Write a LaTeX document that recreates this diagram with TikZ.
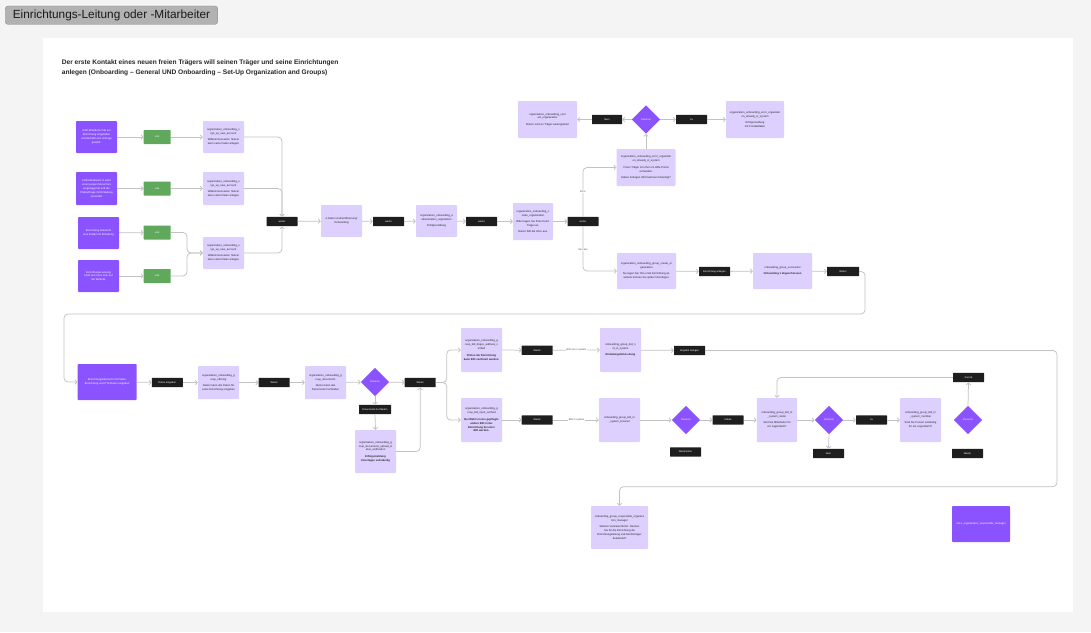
\documentclass[tikz,border=0pt]{standalone}
\usepackage{fontspec}
\setmainfont{Liberation Sans}
\usetikzlibrary{shapes.geometric,arrows.meta}
\definecolor{bgc}{HTML}{F4F4F4}
\definecolor{dpur}{HTML}{8B52FF}
\definecolor{lpur}{HTML}{DDD0FF}
\definecolor{grn}{HTML}{5FA85C}
\definecolor{blk}{HTML}{1E1E1E}
\definecolor{lgr}{HTML}{C2C2C2}
\definecolor{hdr}{HTML}{B2B2B2}
\begin{document}
\begin{tikzpicture}[x=1pt,y=-1pt,
 box/.style={inner sep=0.5pt, align=center, font=\fontsize{2.7}{3.9}\selectfont},
 sz/.style 2 args={minimum width=#1pt, minimum height=#2pt},
 dp/.style={box, fill=dpur, text=white, rounded corners=0.8pt},
 lp/.style={box, fill=lpur, text=black!85, rounded corners=0.8pt},
 bk/.style={box, fill=blk, text=white, rounded corners=0.6pt, sz={31}{9.4}, font=\fontsize{2.5}{3}\selectfont},
 gr/.style={box, fill=grn, text=white, rounded corners=0.6pt, sz={27}{14}, font=\fontsize{2.5}{3}\selectfont},
 dm/.style={shape=diamond, aspect=1, fill=dpur, text=white, inner sep=0, minimum size=28.5pt, font=\fontsize{2.5}{3}\selectfont},
 ln/.style={draw=lgr, line width=0.75pt, rounded corners=4pt, -{Straight Barb[length=2pt,width=4.5pt]}},
 lbl/.style={fill=white, inner sep=0.8pt, text=black!70, font=\fontsize{2.5}{3}\selectfont}
]
\useasboundingbox (0,0) rectangle (1091,632);
\fill[bgc] (0,0) rectangle (1091,632);
\fill[white] (43,38) rectangle (1073,612);

\node[draw=black!45, fill=hdr, rounded corners=3pt, sz={212.5}{18.5}, inner sep=0, font=\fontsize{11.8}{13}\selectfont, text=black!90] (hdr) at (111.5,15.2) {Einrichtungs-Leitung oder -Mitarbeiter};

\node[anchor=north west, align=left, inner sep=0, font=\bfseries\fontsize{6.6}{9.6}\selectfont, text=black!85] (title) at (61.7,60) {Der erste Kontakt eines neuen freien Trägers will seinen Träger und seine Einrichtungen\\anlegen (Onboarding – General UND Onboarding – Set-Up Organization and Groups)};

% left column
\node[dp, sz={41}{32}] (d1) at (96.5,137) {ASD-Mitarbeiter hat ein\\Einrichtung eingeladen\\und deshalb eine Anfrage\\gestellt.};
\node[dp, sz={41}{33}] (d2) at (96.5,188.5) {ASD-Mitarbeiter:in sieht\\einen jungen Menschen\\eingeloggt hat und die\\Platzanfrage mit Einladung\\versendet};
\node[dp, sz={41}{32}] (d3) at (98.5,233) {Einrichtung bekommt\\eine E-Mail mit Einladung};
\node[dp, sz={41}{32}] (d4) at (98.5,276) {Einrichtungs-Leitung\\klickt auf einen Link auf\\der Website};
\node[gr] (g1) at (157.2,137) {Link};
\node[gr] (g2) at (157.2,188.5) {Link};
\node[gr] (g3) at (157.2,232.5) {Link};
\node[gr] (g4) at (157.2,276) {Link};
\node[lp, sz={41}{32}] (l1) at (223.5,137) {organization\_onboarding\_s\\ign\_up\_new\_account\\[2.5pt]Willkommensseite: Nutzer\\kann seine Daten anlegen};
\node[lp, sz={41}{33}] (l2) at (223.5,188.5) {organization\_onboarding\_s\\ign\_up\_new\_account\\[2.5pt]Willkommensseite: Nutzer\\kann seine Daten anlegen};
\node[lp, sz={41}{32}] (l3) at (223.5,253) {organization\_onboarding\_s\\ign\_up\_new\_account\\[2.5pt]Willkommensseite: Nutzer\\kann seine Daten anlegen};
\coordinate (m1) at (187,253);

\node[bk] (w1) at (282,221.5) {weiter};
\node[lp, sz={41}{32}] (p2f) at (341.5,221) {2-Faktor Authentifizierung/\\Onboarding};
\node[bk] (w2) at (388.5,221.5) {weiter};
\node[lp, sz={41}{32}] (p3) at (436.5,221) {organization\_onboarding\_a\\uthentication\_registration\\[2.5pt]Erfolgsmeldung};
\node[bk] (w3) at (481.5,221.5) {weiter};
\node[lp, sz={40}{37}] (p4) at (533,221.5) {organization\_onboarding\_c\\reate\_organization\\[2.5pt]Bitte tragen Sie Ihren freien\\Träger an.\\[2.5pt]Nutzer füllt die Infos aus.};
\node[bk] (w4) at (583,221.5) {weiter};

% error / success branch
\node[lp, sz={59}{37}] (err) at (646,167.5) {organization\_onboarding\_error\_organizati\\on\_already\_in\_system\\[2.5pt]Freier Träger ist schon im Hilfe-Portal\\vorhanden.\\[2.5pt]Haben Kollegen Informationen hinterlegt?};
\node[dm] (dm1) at (646,119.5) {Decision};
\node[bk, sz={30}{9.4}] (nein1) at (607,119.5) {Nein};
\node[bk] (ja1) at (691.5,119.5) {Ja};
\node[lp, sz={59}{37}] (tl) at (547.5,119.5) {organization\_onboarding\_cont\\act\_organization\\[2.5pt]Nutzer wird an Träger weitergeleitet};
\node[lp, sz={58}{37}] (tr) at (755,119.5) {organization\_onboarding\_error\_organizati\\on\_already\_in\_system\\[2.5pt]Erfolgsmeldung\\mit Kontaktdaten};
\node[lp, sz={59}{36}] (succ) at (646.5,271) {organization\_onboarding\_group\_create\_or\\ganization\\[2.5pt]Sie legen hier Ihre erste Einrichtung an,\\weitere können Sie später hinzufügen.};
\node[bk] (ea) at (714.5,271.5) {Einrichtung anlegen};
\node[lp, sz={59}{36}] (sful) at (782.5,271) {onboarding\_group\_successful\\[2.5pt]\textbf{Onboarding 1 abgeschlossen}};
\node[bk, sz={32}{9.4}] (w5) at (843,271.5) {Weiter};
\coordinate (c1) at (865,314);
\coordinate (c2) at (64,314);

% second row
\node[dp, sz={59}{36}] (big) at (107.2,382) {Einrichtungsübersicht mit Daten:\\Einrichtung und CTA Daten eingeben};
\node[bk] (de) at (167.3,382.5) {Daten eingeben};
\node[lp, sz={41}{33}] (l5) at (218.5,382.5) {organization\_onboarding\_g\\roup\_offering\\[2.5pt]Nutzer kann alle Daten für\\seine Einrichtung eingeben};
\node[bk] (w6) at (274.2,382.5) {Weiter};
\node[lp, sz={41}{33}] (l6) at (325.5,382.5) {organization\_onboarding\_g\\roup\_documents\\[2.5pt]Nutzer kann alle\\Dokumente hochladen};
\node[dm] (dm2) at (375,382) {Decision};
\node[bk] (wb) at (420.2,382.5) {Weiter};
\node[bk, sz={32}{9.4}] (dh) at (375,409.5) {Dokumente hochladen};
\node[lp, sz={41}{43}] (ldoc) at (375.5,451.5) {organization\_onboarding\_g\\roup\_documents\_upload\_st\\atus\_verification\\[2.5pt]\textbf{Erfolgsmeldung}\\\textbf{Unterlagen vollständig}};
\coordinate (br) at (446.7,382.5);

% upper BID branch
\node[lp, sz={41}{44}] (ltop) at (481.5,350) {organization\_onboarding\_g\\roup\_bid\_dsgvo\_address\_v\\erified\\[2.5pt]\textbf{Prüfen der Einrichtung}\\\textbf{kann BID verifiziert werden.}};
\node[bk] (wt) at (537.2,350.2) {Weiter};
\node[lp, sz={41}{44}] (lbidn) at (620.5,350) {onboarding\_group\_bid\_n\\ot\_in\_system\\[2.5pt]\textbf{Einladungslink/Leitung}};
\node[bk] (aa) at (689.5,350.5) {Angebot anlegen};
\coordinate (c3) at (1057,350.5);
\coordinate (c4) at (1057,486.7);

% lower BID branch
\node[lp, sz={41}{44}] (lbot) at (481.5,420) {organization\_onboarding\_g\\roup\_bid\_input\_verified\\[2.5pt]\textbf{Bei Wahl ist eine gepflegte}\\\textbf{andere BID in der}\\\textbf{Einrichtung bei einer}\\\textbf{BID werden.}};
\node[bk] (wb2) at (537.2,420) {Weiter};
\node[lp, sz={41}{44}] (lbid) at (619.5,420) {onboarding\_group\_bid\_in\\\_system\_browser};
\node[dm] (dm3) at (686,420) {Decision};
\node[bk] (wu) at (685.5,452) {Weiterleiten};
\node[bk] (ini) at (728,420) {Initiale};
\node[lp, sz={40.3}{44}] (lv1) at (777,420) {onboarding\_group\_bid\_in\\\_system\_visitor\\[2.5pt]Sind Sie Mitarbeiter für\\ein Jugendamt?};
\node[dm] (dm4) at (829,420) {Decision};
\node[bk] (nein2) at (828.5,453.5) {Nein};
\node[bk] (ja2) at (871.5,420) {Ja};
\node[lp, sz={41}{44}] (lv2) at (920.5,420) {onboarding\_group\_bid\_in\\\_system\_member\\[2.5pt]Sind Sie Person zuständig\\für ein Jugendamt?};
\node[dm] (dm5) at (968,420) {Decision};
\node[bk] (zur) at (968.5,377.5) {Zurück};
\node[bk] (wei) at (967.5,453.5) {Weiter};

% bottom
\node[lp, sz={57}{43}] (fin) at (619.5,527.5) {onboarding\_group\_responsible\_organiza\\tion\_manager\\[2.5pt]Weitere Verantwortliche: Nennen\\Sie für die Einrichtung die\\Einrichtungsleitung und Rechtsträger\\bearbeitet?};
\node[dp, sz={58}{36}] (roles) at (981,524) {roles\_organization\_responsible\_manager};

% connectors
\foreach \a/\b in {d1/g1,d2/g2,d3/g3,d4/g4,g1/l1,g2/l2,w1/p2f,p2f/w2,w2/p3,p3/w3,w3/p4,p4/w4,
  dm1/nein1,nein1/tl,dm1/ja1,ja1/tr,succ/ea,ea/sful,sful/w5,big/de,de/l5,l5/w6,w6/l6,l6/dm2,dm2/wb,
  ltop/wt,wt/lbidn,lbidn/aa,lbot/wb2,wb2/lbid,lbid/dm3,dm3/ini,ini/lv1,lv1/dm4,dm4/ja2,ja2/lv2}
  {\draw[ln] (\a) -- (\b);}
\draw[ln] (l1.east) -| (w1.north);
\draw[ln] (l2.east) -| (w1.north);
\draw[ln] (l3.east) -| (w1.south);
\draw[ln] (g3.east) -| (m1) -- (l3.west);
\draw[ln] (g4.east) -| (m1) -- (l3.west);
\draw[ln] (w4.north) |- (err.west);
\draw[ln] (w4.south) |- (succ.west);
\node[lbl] (labe) at (583,191.7) {Error};
\node[lbl] (labs) at (583,249.7) {Success};
\draw[ln] (err.north) -- (dm1.south);
\draw[ln] (w5.east) -| (c1) -- (c2) |- (big.west);
\draw[ln] (dm2.south) -- (dh.north);
\draw[ln] (dh.south) -- (ldoc.north);
\draw[ln] (ldoc.east) -| (wb.south);
\draw[ln] (wb.east) -- (br) |- (ltop.west);
\draw[ln] (wb.east) -- (br) |- (lbot.west);
\draw[ln] (aa.east) -- (c3) -- (c4) -| (fin.north);
\draw[ln] (dm4.south) -- (nein2.north);
\draw[ln] (dm5.north) -- (zur.south);
\draw[ln] (zur.west) -| (lv1.north);
\node[lbl] (lab1) at (576.5,350.2) {BID not in system};
\node[lbl] (lab2) at (576.5,420) {BID in system};
\end{tikzpicture}
\end{document}
